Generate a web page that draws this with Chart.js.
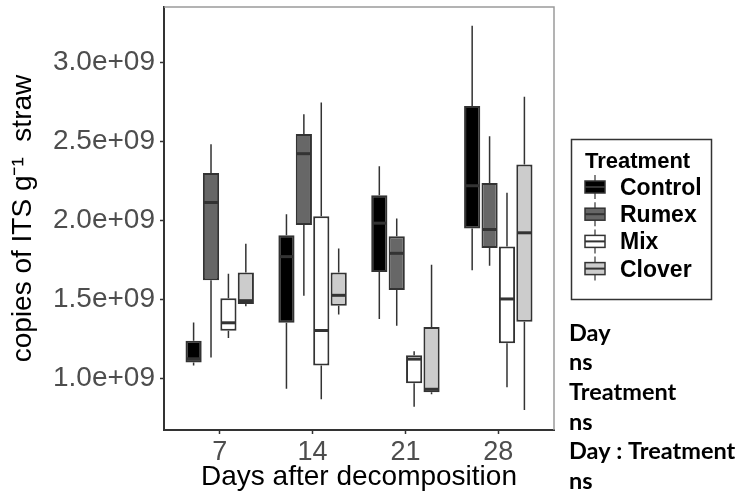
<!DOCTYPE html>
<html>
<head>
<meta charset="utf-8">
<script src="https://cdn.jsdelivr.net/npm/chart.js@4/dist/chart.umd.min.js"></script>
<style>
  html, body { margin: 0; padding: 0; background: #ffffff; }
  canvas { display: block; }
</style>
</head>
<body>
<canvas id="chart" width="738" height="495"></canvas>
<script>
// ---- data -------------------------------------------------------------
const days = ['7', '14', '21', '28'];
const treatments = ['Control', 'Rumex', 'Mix', 'Clover'];

// five-number summaries per day: [lower whisker, Q1, median, Q3, upper whisker]
const control = [
  [1.080e9, 1.099e9, 1.123e9, 1.237e9, 1.353e9],
  [0.934e9, 1.351e9, 1.770e9, 1.905e9, 2.039e9],
  [1.375e9, 1.673e9, 1.982e9, 2.159e9, 2.342e9],
  [1.683e9, 1.948e9, 2.219e9, 2.724e9, 3.232e9]
];
const rumex = [
  [1.131e9, 1.620e9, 2.113e9, 2.299e9, 2.481e9],
  [1.522e9, 1.971e9, 2.422e9, 2.547e9, 2.672e9],
  [1.332e9, 1.559e9, 1.791e9, 1.899e9, 2.011e9],
  [1.713e9, 1.825e9, 1.942e9, 2.236e9, 2.532e9]
];
const mix = [
  [1.254e9, 1.300e9, 1.351e9, 1.506e9, 1.662e9],
  [0.867e9, 1.080e9, 1.302e9, 2.026e9, 2.746e9],
  [0.820e9, 0.968e9, 1.121e9, 1.146e9, 1.171e9],
  [0.943e9, 1.222e9, 1.502e9, 1.834e9, 2.175e9]
];
const clover = [
  [1.455e9, 1.470e9, 1.491e9, 1.670e9, 1.851e9],
  [1.404e9, 1.459e9, 1.525e9, 1.670e9, 1.821e9],
  [0.898e9, 0.911e9, 0.930e9, 1.324e9, 1.719e9],
  [0.799e9, 1.357e9, 1.921e9, 2.354e9, 2.782e9]
];

const yTicks = [1.0e9, 1.5e9, 2.0e9, 2.5e9, 3.0e9];
const anovaLines = ['Day', 'ns', 'Treatment', 'ns', 'Day : Treatment', 'ns'];

// ---- styling ----------------------------------------------------------
const fills = ['#000000', '#676767', '#ffffff', '#cccccc'];
const lineColor = '#333333';
const summaries = [control, rumex, mix, clover];
const FONT = "'Liberation Sans', Arial, sans-serif";

const datasets = treatments.map((name, t) => ({
  label: name,
  data: summaries[t].map((s, i) => ({ x: i + 1, y: [s[1], s[3]] })),
  stats: summaries[t],
  backgroundColor: fills[t],
  borderColor: lineColor,
  borderWidth: 2,
  borderSkipped: false,
  categoryPercentage: 0.75,
  barPercentage: 0.93
}));

// whiskers behind the boxes, medians on top
const boxWhiskers = {
  id: 'boxWhiskers',
  beforeDatasetsDraw(chart) {
    const ctx = chart.ctx, y = chart.scales.y;
    ctx.save();
    ctx.strokeStyle = lineColor;
    ctx.lineWidth = 1.5;
    chart.data.datasets.forEach((ds, di) => {
      const meta = chart.getDatasetMeta(di);
      meta.data.forEach((bar, i) => {
        const s = ds.stats[i];
        ctx.beginPath();
        ctx.moveTo(bar.x, y.getPixelForValue(s[4]));
        ctx.lineTo(bar.x, y.getPixelForValue(s[3]));
        ctx.moveTo(bar.x, y.getPixelForValue(s[1]));
        ctx.lineTo(bar.x, y.getPixelForValue(s[0]));
        ctx.stroke();
      });
    });
    ctx.restore();
  },
  afterDatasetsDraw(chart) {
    const ctx = chart.ctx, y = chart.scales.y;
    ctx.save();
    ctx.strokeStyle = lineColor;
    ctx.lineWidth = 3;
    chart.data.datasets.forEach((ds, di) => {
      const meta = chart.getDatasetMeta(di);
      meta.data.forEach((bar, i) => {
        const py = y.getPixelForValue(ds.stats[i][2]);
        ctx.beginPath();
        ctx.moveTo(bar.x - bar.width / 2 + 1, py);
        ctx.lineTo(bar.x + bar.width / 2 - 1, py);
        ctx.stroke();
      });
    });
    ctx.restore();
  }
};

// light top and right edges of the panel
const panelFrame = {
  id: 'panelFrame',
  afterDraw(chart) {
    const { ctx, chartArea: a } = chart;
    ctx.save();
    ctx.strokeStyle = '#9a9a9a';
    ctx.lineWidth = 1.5;
    ctx.beginPath();
    ctx.moveTo(a.left, a.top);
    ctx.lineTo(a.right, a.top);
    ctx.lineTo(a.right, a.bottom);
    ctx.stroke();
    ctx.restore();
  }
};

// legend with boxplot keys, plus the significance notes
const sideLegend = {
  id: 'sideLegend',
  afterDraw(chart) {
    const ctx = chart.ctx;
    ctx.save();
    ctx.strokeStyle = '#333333';
    ctx.lineWidth = 1.5;
    ctx.strokeRect(571.5, 139.5, 140, 160);
    ctx.fillStyle = '#000000';
    ctx.textAlign = 'left';
    ctx.textBaseline = 'alphabetic';
    ctx.font = 'bold 22px ' + FONT;
    ctx.fillText('Treatment', 585, 168);
    ctx.font = 'bold 23px ' + FONT;
    treatments.forEach((name, t) => {
      const base = 195 + t * 27.2;
      const cy = base - 8;
      const kx = 585, kw = 20;
      ctx.strokeStyle = lineColor;
      ctx.lineWidth = 1.2;
      ctx.beginPath();
      ctx.moveTo(kx + kw / 2, cy - 12);
      ctx.lineTo(kx + kw / 2, cy + 12);
      ctx.stroke();
      ctx.fillStyle = fills[t];
      ctx.fillRect(kx, cy - 6, kw, 12);
      ctx.lineWidth = 1.5;
      ctx.strokeRect(kx, cy - 6, kw, 12);
      ctx.lineWidth = 2;
      ctx.beginPath();
      ctx.moveTo(kx, cy);
      ctx.lineTo(kx + kw, cy);
      ctx.stroke();
      ctx.fillStyle = '#000000';
      ctx.fillText(name, 620, base);
    });
    ctx.textBaseline = 'middle';
    ctx.font = 'bold 20px Lato, sans-serif';
    const w = ctx.measureText('Day : Treatment').width;
    const size = 20 * 166 / w;
    ctx.font = 'bold ' + size.toFixed(1) + 'px Lato, sans-serif';
    anovaLines.forEach((line, i) => {
      ctx.fillText(line, 569, 333 + i * 29.7);
    });
    ctx.restore();
  }
};

new Chart(document.getElementById('chart'), {
  type: 'bar',
  data: { datasets },
  options: {
    responsive: false,
    animation: false,
    events: [],
    layout: { padding: { left: 0, right: 184, top: 7, bottom: 0 } },
    plugins: { legend: { display: false }, tooltip: { enabled: false } },
    font: { family: FONT },
    scales: {
      x: {
        type: 'linear',
        offset: false,
        min: 0.4,
        max: 4.6,
        afterBuildTicks: s => { s.ticks = days.map((d, i) => ({ value: i + 1 })); },
        afterFit: s => { s.height = 65; s.paddingLeft = 0; s.paddingRight = 0; },
        grid: { offset: false, drawOnChartArea: false, tickLength: 4, tickColor: lineColor, tickWidth: 1.5 },
        border: { color: lineColor, width: 2 },
        ticks: {
          callback: v => days[v - 1],
          color: '#4d4d4d',
          font: { family: FONT, size: 27 },
          padding: 2,
          maxRotation: 0,
          autoSkip: false
        },
        title: {
          display: true,
          text: 'Days after decomposition',
          color: '#000000',
          font: { family: FONT, size: 28 },
          padding: { top: 0, bottom: 1 }
        }
      },
      y: {
        min: 0.672e9,
        max: 3.351e9,
        afterBuildTicks: s => { s.ticks = yTicks.map(v => ({ value: v })); },
        afterFit: s => { s.width = 164; s.paddingTop = 0; s.paddingBottom = 0; },
        grid: { drawOnChartArea: false, tickLength: 4, tickColor: lineColor, tickWidth: 1.5 },
        border: { color: lineColor, width: 2 },
        ticks: {
          callback: v => (v / 1e9).toFixed(1) + 'e+09',
          color: '#4d4d4d',
          font: { family: FONT, size: 28 },
          padding: 5
        },
        title: {
          display: true,
          text: 'copies of ITS g\u207B\u00B9  straw',
          color: '#000000',
          font: { family: FONT, size: 28 },
          padding: { top: 6, bottom: 0 }
        }
      }
    }
  },
  plugins: [boxWhiskers, panelFrame, sideLegend]
});
</script>
</body>
</html>
